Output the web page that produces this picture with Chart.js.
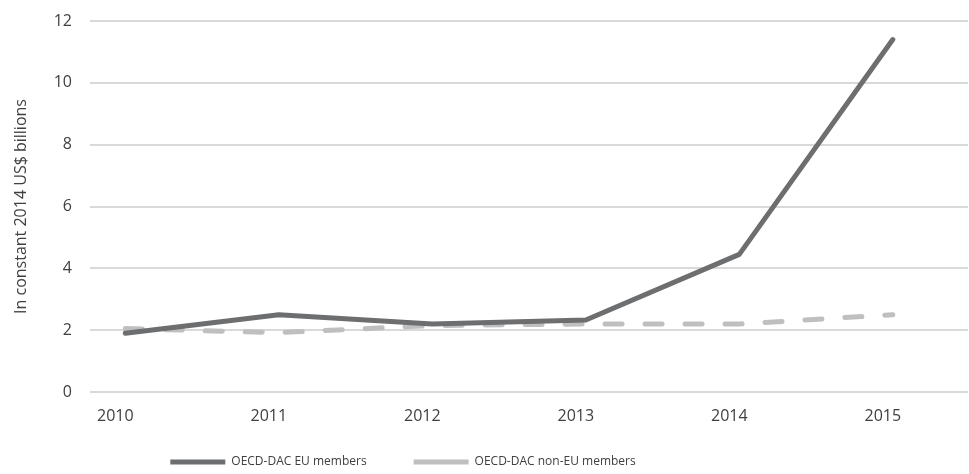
<!DOCTYPE html>
<html>
<head>
<meta charset="utf-8">
<script src="https://cdn.jsdelivr.net/npm/chart.js@4.4.0/dist/chart.umd.min.js"></script>
<style>
  html, body { margin: 0; padding: 0; background: #fff; }
  #wrap { width: 969px; height: 474px; position: relative; }
</style>
</head>
<body>
<div id="wrap"><canvas id="chart"></canvas></div>
<script>
// 数据 (读图估算)
var years = [2010, 2011, 2012, 2013, 2014, 2015];
var euMembers = [1.9, 2.5, 2.2, 2.33, 4.45, 11.4];
var nonEuMembers = [2.05, 1.92, 2.15, 2.2, 2.2, 2.5];
var yTicks = [0, 2, 4, 6, 8, 10, 12];

var FONT = "'Open Sans', sans-serif";
var TEXT = '#404040';
var LABEL_SHIFT = 0.065; // 年份标签略偏左于数据点 (原图如此)

function toPoints(vals) {
  return years.map(function(y, i) { return { x: y, y: vals[i] }; });
}

// 图例: 固定高度, 再整体挪位 (原图图例不居中, 项间距大)
// 注意: x轴标签会被裁剪到轴的盒子内, 所以轴盒子要留够高度
var legendTweak = {
  id: 'legendTweak',
  beforeLayout: function(chart) {
    var lg = chart.legend;
    if (!lg || lg._patched) return;
    var fit = lg.fit;
    lg.fit = function() { fit.call(this); this.height = 37; };
    lg._patched = true;
  },
  afterLayout: function(chart) {
    var lg = chart.legend;
    if (!lg) return;
    lg.left -= 81;
    lg.right -= 81;
    lg.top = 409;
  }
};

new Chart(document.getElementById('chart'), {
  type: 'line',
  data: {
    datasets: [
      {
        label: 'OECD-DAC EU members',
        data: toPoints(euMembers),
        borderColor: '#6d6e70',
        backgroundColor: '#6d6e70',
        borderWidth: 5,
        borderCapStyle: 'round',
        borderJoinStyle: 'round',
        pointRadius: 0,
        tension: 0
      },
      {
        label: 'OECD-DAC non-EU members',
        data: toPoints(nonEuMembers),
        borderColor: '#bfbfbf',
        backgroundColor: '#bfbfbf',
        borderWidth: 5,
        borderDash: [17, 23],
        borderCapStyle: 'round',
        pointRadius: 0,
        tension: 0
      }
    ]
  },
  options: {
    responsive: true,
    maintainAspectRatio: false,
    animation: false,
    layout: { padding: { top: 4, right: 1, left: 0, bottom: 0 } },
    plugins: {
      tooltip: { enabled: false },
      legend: {
        position: 'bottom',
        labels: {
          color: TEXT,
          font: { family: FONT, size: 12 },
          usePointStyle: true,
          pointStyle: 'line',
          pointStyleWidth: 55,
          padding: 47
        }
      }
    },
    scales: {
      x: {
        type: 'linear',
        min: 2009.77,
        max: 2015.49,
        grid: { display: false, drawTicks: false },
        border: { display: false },
        afterBuildTicks: function(scale) {
          scale.ticks = years.map(function(v) { return { value: v - LABEL_SHIFT }; });
        },
        afterFit: function(scale) { scale.height = 45; },
        ticks: {
          color: TEXT,
          font: { family: FONT, size: 16 },
          padding: 15,
          callback: function(v) { return String(Math.round(v)); }
        }
      },
      y: {
        min: 0,
        max: 12,
        grid: { color: '#d9d9d9', lineWidth: 2, drawTicks: false },
        border: { display: false },
        afterBuildTicks: function(scale) {
          scale.ticks = yTicks.map(function(v) { return { value: v }; });
        },
        afterFit: function(scale) {
          scale.width = 90;
          scale.paddingTop = 21;
          scale.paddingBottom = 10;
        },
        ticks: {
          color: TEXT,
          font: { family: FONT, size: 16 },
          padding: 18
        },
        title: {
          display: true,
          text: 'In constant 2014 US$ billions',
          color: TEXT,
          font: { family: FONT, size: 16 },
          padding: { top: 12, bottom: 0 }
        }
      }
    }
  },
  plugins: [legendTweak]
});
</script>
</body>
</html>
